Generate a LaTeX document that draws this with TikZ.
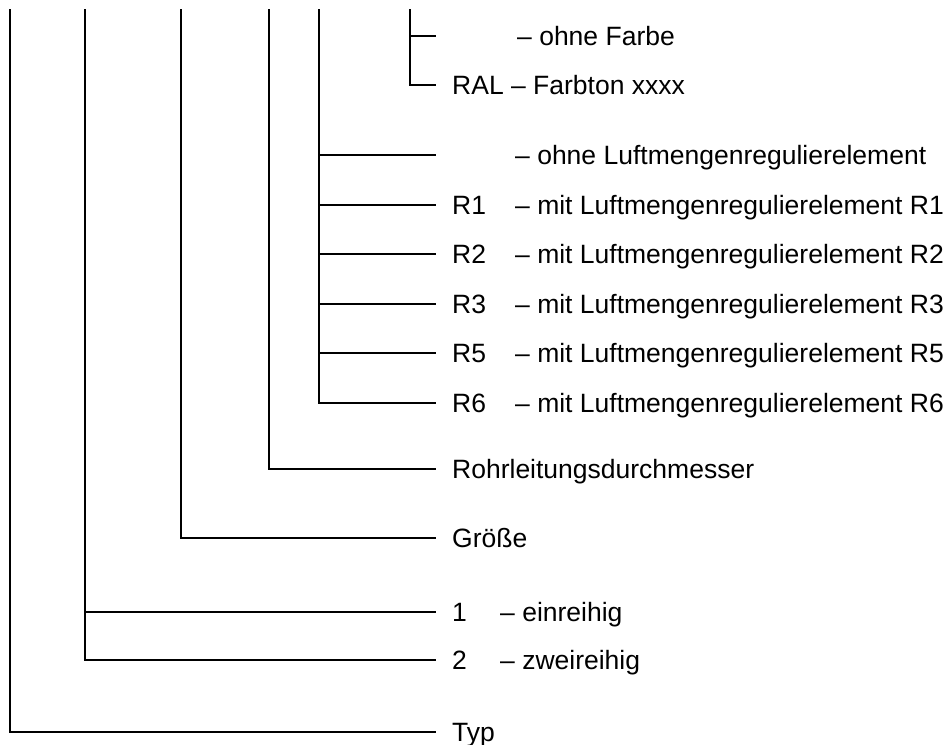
\documentclass[tikz,border=0pt]{standalone}
\usepackage{fontspec}
\setmainfont{Liberation Sans}
\begin{document}
\begin{tikzpicture}[x=1pt,y=-1pt,
  lbl/.style={anchor=west, inner sep=0pt, text height=19pt, text depth=0pt,
              font=\fontsize{26.5}{30}\selectfont},
  conn/.style={draw=black, line width=2pt, line cap=butt, line join=miter}]
\useasboundingbox (0,0) rectangle (950,744);

% tops of the vertical stems
\coordinate (t1) at (10,9);
\coordinate (t2) at (85,9);
\coordinate (t3) at (181,9);
\coordinate (t4) at (269,9);
\coordinate (t5) at (319,9);
\coordinate (t6) at (410,9);

% ends of branches without a code
\coordinate (eF0) at (436,36);
\coordinate (eL0) at (436,155);

% labels: colour
\node[lbl] (dF0) at (517,36) {– ohne Farbe};
\node[lbl] (cRAL) at (452,85) {RAL – Farbton xxxx};

% labels: air regulator
\node[lbl] (dL0) at (515,155) {– ohne Luftmengenregulierelement};
\node[lbl] (cR1) at (452,204.5) {R1};
\node[lbl] (dR1) at (515,204.5) {– mit Luftmengenregulierelement R1};
\node[lbl] (cR2) at (452,254) {R2};
\node[lbl] (dR2) at (515,254) {– mit Luftmengenregulierelement R2};
\node[lbl] (cR3) at (452,303.5) {R3};
\node[lbl] (dR3) at (515,303.5) {– mit Luftmengenregulierelement R3};
\node[lbl] (cR5) at (452,353) {R5};
\node[lbl] (dR5) at (515,353) {– mit Luftmengenregulierelement R5};
\node[lbl] (cR6) at (452,402.5) {R6};
\node[lbl] (dR6) at (515,402.5) {– mit Luftmengenregulierelement R6};

% other labels
\node[lbl] (rohr) at (452,469) {Rohrleitungsdurchmesser};
\node[lbl] (groesse) at (452,538) {Größe};
\node[lbl] (c1) at (452,612) {1};
\node[lbl] (d1) at (500,612) {– einreihig};
\node[lbl] (c2) at (452,660) {2};
\node[lbl] (d2) at (500,660) {– zweireihig};
\node[lbl] (typ) at (452,732) {Typ};

% colour group
\draw[conn] (t6 |- eF0) -- (eF0);
\draw[conn] (t6) |- ([xshift=-16pt]cRAL.west);

% air regulator group
\draw[conn] (t5 |- eL0) -- (eL0);
\draw[conn] (t5 |- cR1.west) -- ([xshift=-16pt]cR1.west);
\draw[conn] (t5 |- cR2.west) -- ([xshift=-16pt]cR2.west);
\draw[conn] (t5 |- cR3.west) -- ([xshift=-16pt]cR3.west);
\draw[conn] (t5 |- cR5.west) -- ([xshift=-16pt]cR5.west);
\draw[conn] (t5) |- ([xshift=-16pt]cR6.west);

% pipe diameter, size
\draw[conn] (t4) |- ([xshift=-16pt]rohr.west);
\draw[conn] (t3) |- ([xshift=-16pt]groesse.west);

% rows
\draw[conn] (t2 |- c1.west) -- ([xshift=-16pt]c1.west);
\draw[conn] (t2) |- ([xshift=-16pt]c2.west);

% type
\draw[conn] (t1) |- ([xshift=-16pt]typ.west);
\end{tikzpicture}
\end{document}
